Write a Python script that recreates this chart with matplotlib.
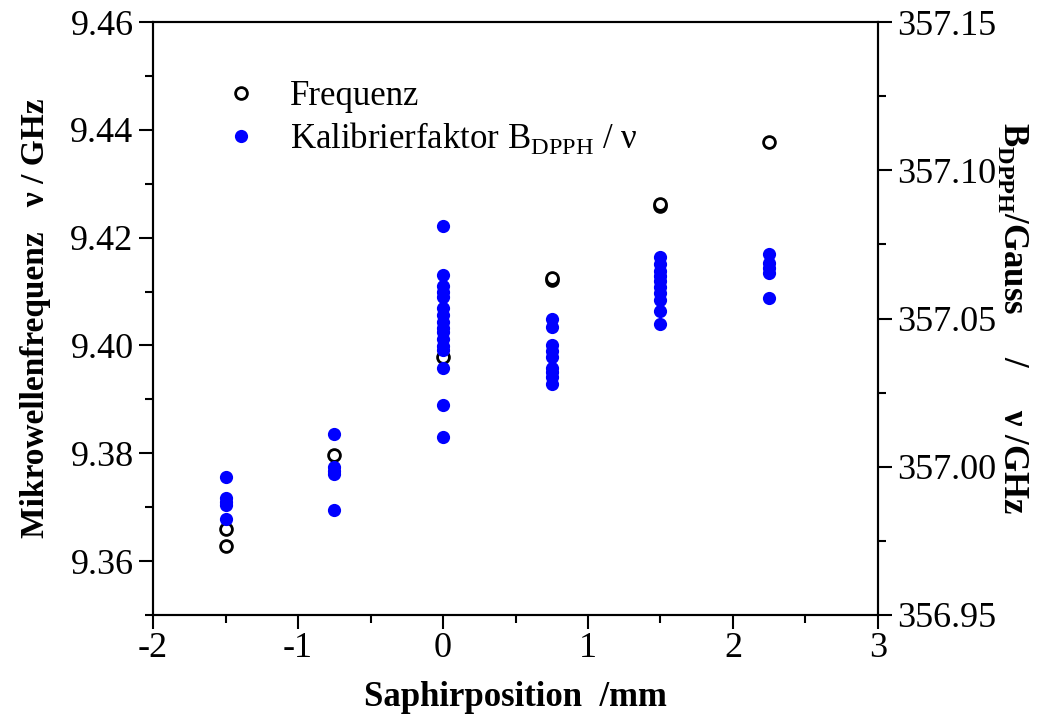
import matplotlib
matplotlib.use("Agg")
import matplotlib.pyplot as plt
from matplotlib.ticker import MultipleLocator

plt.rcParams["font.family"] = ["Liberation Serif", "DejaVu Serif"]
plt.rcParams["mathtext.fontset"] = "custom"
plt.rcParams["mathtext.rm"] = "Liberation Serif"
plt.rcParams["mathtext.bf"] = "Liberation Serif:bold"
plt.rcParams["axes.unicode_minus"] = False

# Frequenz (left axis, GHz)
freq_pos = [-1.5, -1.5, -0.75, 0.0, 0.75, 0.75, 1.5, 1.5, 2.25]
freq_val = [9.3659, 9.3627, 9.3796, 9.3978, 9.4122, 9.4125, 9.4258, 9.4262, 9.4378]

# Kalibrierfaktor B_DPPH / nu (right axis, Gauss/GHz)
kal_pos = ([-1.5] * 5 + [-0.75] * 5 + [0.0] * 16 + [0.75] * 9 + [1.5] * 10 + [2.25] * 5)
kal_val = [
    356.9966, 356.9896, 356.9882, 356.9872, 356.9825,
    357.0112, 357.0000, 356.9987, 356.9977, 356.9855,
    357.0813, 357.0647, 357.0610, 357.0590, 357.0573, 357.0536, 357.0513, 357.0489,
    357.0469, 357.0455, 357.0432, 357.0408, 357.0395, 357.0334, 357.0209, 357.0101,
    357.0499, 357.0472, 357.0411, 357.0391, 357.0371, 357.0334, 357.0320, 357.0304, 357.0280,
    357.0708, 357.0684, 357.0661, 357.0644, 357.0627, 357.0607, 357.0587, 357.0563,
    357.0526, 357.0482,
    357.0718, 357.0688, 357.0671, 357.0654, 357.0570,
]

fig = plt.figure(figsize=(10.41, 7.15), dpi=100)
ax = fig.add_axes([0.147, 0.140, 0.6964, 0.829])
ax2 = ax.twinx()

h1, = ax.plot(freq_pos, freq_val, "o", markerfacecolor="white", markeredgecolor="black",
              markersize=8.5, markeredgewidth=2, label="Frequenz")
h2, = ax2.plot(kal_pos, kal_val, "o", color="#0000ff", markersize=9.5,
               markeredgewidth=0, label=r"Kalibrierfaktor B$_{\mathrm{DPPH}}$ / ν")

ax.set_xlim(-2, 3)
ax.set_ylim(9.35, 9.46)
ax2.set_ylim(356.95, 357.15)

ax.xaxis.set_major_locator(MultipleLocator(1))
ax.xaxis.set_minor_locator(MultipleLocator(0.5))
ax.yaxis.set_major_locator(MultipleLocator(0.02))
ax.yaxis.set_minor_locator(MultipleLocator(0.01))
ax2.yaxis.set_major_locator(MultipleLocator(0.05))
ax2.yaxis.set_minor_locator(MultipleLocator(0.025))
ax.yaxis.set_major_formatter(plt.FormatStrFormatter("%.2f"))
ax2.yaxis.set_major_formatter(plt.FormatStrFormatter("%.2f"))

for a in (ax, ax2):
    a.tick_params(which="major", direction="out", length=10, width=1.5, labelsize=26, pad=4)
    a.tick_params(which="minor", direction="out", length=6, width=1.5)
    for s in a.spines.values():
        s.set_linewidth(1.5)
ax.tick_params(axis="x", top=False, which="both", pad=2)
ax.tick_params(axis="y", right=False, which="both")

ax.set_xlabel("Saphirposition  /mm", fontsize=25, fontweight="bold", labelpad=12)
ax.set_ylabel("Mikrowellenfrequenz   ν / GHz", fontsize=24, fontweight="bold", labelpad=14)
ax2.set_ylabel(r"B$_{\mathbf{DPPH}}$/Gauss     /     ν /GHz", fontsize=25,
               fontweight="bold", rotation=270, labelpad=24)

ax2.legend(handles=[h1, h2], loc="upper left", bbox_to_anchor=(0.04, 0.955), frameon=False,
           fontsize=25, handletextpad=0.6, labelspacing=0.2, handlelength=1.6)

fig.savefig("out.png", dpi=100)
